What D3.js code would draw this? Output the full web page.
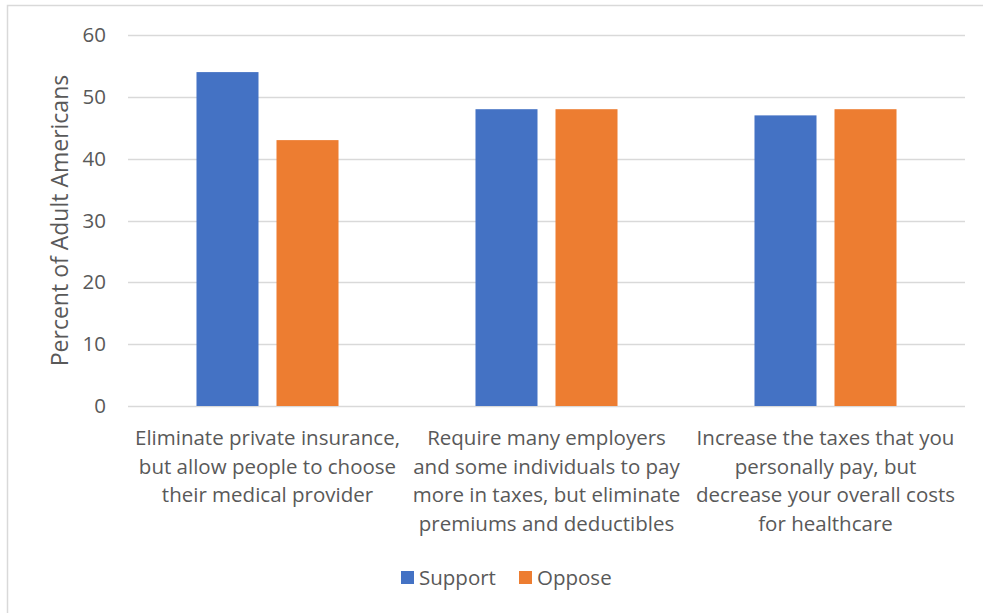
<!DOCTYPE html>
<html>
<head>
<meta charset="utf-8">
<script src="https://cdn.jsdelivr.net/npm/d3@7"></script>
<style>
  html, body { margin: 0; padding: 0; background: #fff; }
  svg text { font-family: "Open Sans", sans-serif; fill: #595959; }
</style>
</head>
<body>
<svg id="chart" width="983" height="613"></svg>
<script>
// Survey: attitudes toward single-payer trade-offs
const categories = [
  ["Eliminate private insurance,", "but allow people to choose", "their medical provider"],
  ["Require many employers", "and some individuals to pay", "more in taxes, but eliminate", "premiums and deductibles"],
  ["Increase the taxes that you", "personally pay, but", "decrease your overall costs", "for healthcare"]
];
const seriesNames = ["Support", "Oppose"];
const supportValues = [54, 48, 47];
const opposeValues = [43, 48, 48];
const yTicks = [0, 10, 20, 30, 40, 50, 60];
const colors = ["#4472C4", "#ED7D31"];

const svg = d3.select("#chart");
const margin = { left: 128, right: 18, top: 35, bottom: 207 };
const W = 983, H = 613;

// outer chart frame
svg.append("rect")
  .attr("x", 7.5).attr("y", 5.5)
  .attr("width", 1000).attr("height", 700)
  .attr("fill", "none").attr("stroke", "#d9d9d9").attr("stroke-width", 1.5);

const x0 = d3.scaleBand()
  .domain(d3.range(categories.length))
  .range([margin.left, W - margin.right]);
const x1 = d3.scaleBand()
  .domain(seriesNames)
  .range([0, x0.bandwidth()])
  .paddingInner(0.225)
  .paddingOuter(0.856);
const y = d3.scaleLinear().domain([0, 60]).range([H - margin.bottom, margin.top]);

// gridlines
svg.append("g").selectAll("line").data(yTicks).join("line")
  .attr("x1", margin.left).attr("x2", W - margin.right)
  .attr("y1", d => Math.round(y(d)) + 0.5).attr("y2", d => Math.round(y(d)) + 0.5)
  .attr("stroke", "#d9d9d9").attr("stroke-width", 1.3);

// y tick labels
const yAxis = svg.append("g")
  .attr("transform", `translate(${margin.left - 22},0)`)
  .call(d3.axisLeft(y).tickValues(yTicks).tickSize(0).tickPadding(0));
yAxis.select(".domain").remove();
yAxis.selectAll("text")
  .style("font-size", "20.5px")
  .style("font-family", "'Open Sans', sans-serif")
  .attr("fill", "#595959");

// bars
const data = categories.map((c, i) => ({ i, values: [supportValues[i], opposeValues[i]] }));
const groups = svg.append("g").selectAll("g").data(data).join("g")
  .attr("transform", d => `translate(${x0(d.i)},0)`);
groups.selectAll("rect")
  .data(d => d.values.map((v, k) => ({ name: seriesNames[k], v, k })))
  .join("rect")
  .attr("x", d => x1(d.name))
  .attr("width", x1.bandwidth())
  .attr("y", d => y(d.v))
  .attr("height", d => y(0) - y(d.v))
  .attr("fill", d => colors[d.k]);

// category labels
const catG = svg.append("g");
categories.forEach((lines, i) => {
  const cx = x0(i) + x0.bandwidth() / 2;
  const t = catG.append("text")
    .attr("x", cx)
    .attr("y", 445)
    .attr("text-anchor", "middle")
    .style("font-size", "20.5px");
  lines.forEach((ln, j) => {
    t.append("tspan")
      .attr("x", cx)
      .attr("dy", j === 0 ? 0 : 28.5)
      .text(ln);
  });
});

// y axis title
svg.append("text")
  .attr("transform", `translate(68,${(y(0) + y(60)) / 2}) rotate(-90)`)
  .attr("text-anchor", "middle")
  .style("font-size", "23px")
  .text("Percent of Adult Americans");

// legend
const legend = svg.append("g").attr("transform", "translate(401,571)");
const legX = [0, 118];
seriesNames.forEach((name, k) => {
  legend.append("rect")
    .attr("x", legX[k]).attr("y", 0)
    .attr("width", 13).attr("height", 13)
    .attr("fill", colors[k]);
  legend.append("text")
    .attr("x", legX[k] + 18).attr("y", 14)
    .style("font-size", "20.5px")
    .text(name);
});
</script>
</body>
</html>
